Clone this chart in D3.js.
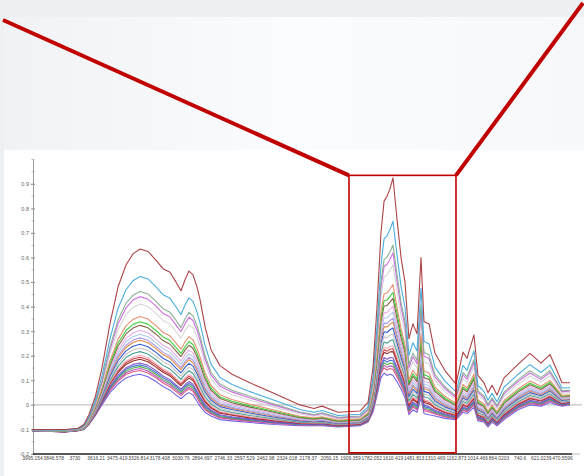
<!DOCTYPE html>
<html><head><meta charset="utf-8">
<script src="https://cdn.jsdelivr.net/npm/d3@7"></script>
<style>html,body{margin:0;padding:0;background:#eef1f4;overflow:hidden}</style>
</head><body><svg id="c" width="584" height="476"></svg>
<script>
// ---- data ----
const wavenumbers = [3995,3782,3711,3679,3652,3619,3574,3521,3467,3411,3362,3313,3257,3201,3152,3103,3061,3027,3001,2976,2950,2924,2905,2871,2829,2766,2682,2560,2399,2231,2140,2091,1989,1849,1801,1768,1735,1703,1678,1654,1630,1607,1583,1558,1534,1510,1486,1454,1422,1398,1357,1309,1240,1163,1114,1086,1037,1009,966,938,909,874,831,750,682,620,556,506,471,414];
const xTickLabels = ["3995.154","3846.578","3730","3616.21","3475.419","3326.814","3178.408","3030.76","2894.697","2746.33","2597.529","2462.98","2324.018","2178.37","2050.15","1909.359","1782.052","1610.419","1481.813","1310.469","1162.873","1014.466","864.0203","740.6","621.0239","470.5596"];
const yTickValues = [-0.2,-0.1,0,0.1,0.2,0.3,0.4,0.5,0.6,0.7,0.8,0.9];

const s1 = [-.1,-.1,-.095,-.08,-.04,.03,.15,.33,.48,.57,.615,.635,.625,.59,.555,.54,.5,.465,.51,.545,.53,.48,.43,.32,.225,.16,.125,.09,.045,0,-.015,-.005,-.03,-.025,.01,.15,.4,.7,.83,.85,.88,.925,.76,.6,.5,.27,.33,.29,.6,.34,.33,.21,.14,.085,.215,.19,.285,.12,.09,.05,.08,.04,.11,.165,.21,.17,.205,.14,.09,.09];
const s2 = [-.101,-.102,-.097,-.084,-.049,.014,.117,.268,.393,.469,.506,.523,.513,.481,.449,.434,.399,.368,.407,.436,.422,.378,.334,.243,.166,.112,.083,.054,.018,-.019,-.03,-.023,-.043,-.038,-.008,.11,.321,.57,.676,.689,.714,.748,.614,.482,.397,.202,.253,.22,.475,.258,.249,.154,.097,.053,.161,.141,.22,.079,.055,.019,.047,.013,.073,.124,.164,.132,.162,.109,.069,.07];
const s3 = [-.102,-.103,-.098,-.087,-.054,.005,.099,.235,.346,.414,.447,.462,.452,.422,.392,.377,.344,.315,.35,.377,.363,.322,.282,.201,.133,.085,.06,.035,.003,-.029,-.039,-.032,-.05,-.045,-.017,.089,.278,.499,.592,.602,.623,.651,.534,.418,.34,.165,.211,.181,.406,.213,.204,.123,.074,.036,.132,.114,.185,.057,.036,.002,.029,-.002,.052,.102,.139,.111,.139,.092,.058,.059];
const s4 = [-.102,-.104,-.099,-.088,-.055,.002,.093,.224,.33,.395,.427,.441,.431,.402,.373,.358,.325,.298,.331,.357,.344,.303,.265,.187,.122,.076,.053,.028,-.002,-.032,-.042,-.035,-.053,-.048,-.02,.082,.263,.476,.564,.573,.593,.619,.507,.397,.321,.152,.197,.168,.383,.198,.189,.113,.066,.03,.122,.105,.173,.05,.029,-.003,.023,-.007,.045,.095,.13,.104,.131,.087,.054,.056];
const s5 = [-.102,-.104,-.099,-.089,-.058,-.003,.084,.207,.306,.368,.397,.411,.401,.372,.344,.329,.298,.271,.303,.327,.314,.275,.239,.166,.106,.063,.041,.019,-.01,-.037,-.046,-.04,-.056,-.051,-.025,.071,.242,.44,.522,.529,.548,.571,.467,.365,.293,.134,.176,.149,.349,.175,.167,.098,.054,.021,.107,.091,.155,.039,.02,-.012,.014,-.015,.035,.084,.118,.093,.119,.078,.048,.05];
const s6 = [-.103,-.105,-.1,-.091,-.062,-.01,.069,.179,.267,.322,.348,.36,.35,.323,.296,.281,.252,.227,.256,.278,.265,.229,.195,.131,.079,.041,.022,.003,-.022,-.046,-.053,-.048,-.062,-.057,-.033,.053,.206,.381,.452,.456,.472,.49,.401,.311,.246,.103,.141,.117,.292,.138,.13,.072,.035,.007,.083,.069,.126,.02,.004,-.026,-.001,-.027,.018,.065,.097,.076,.1,.064,.039,.041];
const s7 = [-.103,-.106,-.101,-.092,-.063,-.013,.063,.168,.251,.303,.328,.339,.329,.303,.277,.262,.233,.21,.237,.258,.246,.21,.178,.117,.068,.032,.015,-.004,-.027,-.049,-.056,-.051,-.065,-.06,-.036,.046,.191,.358,.424,.427,.442,.458,.374,.29,.227,.09,.127,.104,.269,.123,.115,.062,.027,.001,.073,.06,.114,.013,-.003,-.031,-.007,-.032,.011,.058,.088,.069,.092,.059,.035,.038];
const s8 = [-.103,-.106,-.101,-.092,-.064,-.016,.059,.159,.239,.289,.313,.324,.314,.288,.262,.247,.219,.197,.223,.243,.231,.196,.165,.107,.06,.026,.009,-.009,-.031,-.052,-.058,-.054,-.067,-.062,-.039,.04,.18,.34,.403,.405,.419,.434,.354,.274,.213,.081,.117,.095,.252,.111,.104,.054,.021,-.003,.066,.053,.105,.007,-.008,-.035,-.011,-.036,.006,.052,.082,.063,.086,.055,.032,.035];
const s9 = [-.103,-.106,-.101,-.093,-.066,-.019,.053,.148,.223,.271,.293,.304,.294,.268,.243,.228,.201,.179,.205,.223,.212,.178,.147,.093,.05,.017,.002,-.015,-.036,-.055,-.06,-.057,-.069,-.064,-.042,.033,.166,.317,.375,.376,.389,.402,.328,.252,.195,.069,.103,.082,.23,.096,.09,.044,.013,-.009,.056,.044,.093,0,-.014,-.041,-.017,-.041,0,.045,.074,.056,.078,.049,.028,.032];
const s10 = [-.103,-.107,-.102,-.094,-.067,-.021,.048,.14,.211,.257,.278,.288,.278,.253,.229,.214,.187,.166,.19,.208,.197,.164,.134,.082,.041,.01,-.004,-.02,-.04,-.058,-.063,-.059,-.071,-.066,-.044,.028,.155,.299,.354,.354,.367,.378,.308,.236,.18,.059,.092,.072,.212,.085,.078,.037,.007,-.014,.048,.037,.084,-.006,-.019,-.045,-.022,-.045,-.006,.039,.067,.051,.072,.045,.025,.029];
const s11 = [-.104,-.107,-.102,-.094,-.068,-.023,.044,.131,.2,.243,.264,.273,.263,.239,.214,.199,.173,.153,.176,.194,.182,.15,.121,.072,.033,.004,-.01,-.025,-.044,-.06,-.065,-.062,-.073,-.068,-.047,.022,.144,.281,.333,.332,.344,.353,.288,.22,.166,.05,.082,.063,.195,.074,.067,.029,.002,-.018,.041,.03,.076,-.011,-.024,-.049,-.026,-.049,-.011,.034,.061,.046,.067,.041,.023,.026];
const s21 = [-.104,-.107,-.102,-.095,-.069,-.025,.041,.126,.192,.234,.254,.263,.253,.229,.205,.19,.164,.144,.167,.184,.172,.141,.112,.065,.028,-.001,-.014,-.028,-.046,-.062,-.066,-.063,-.074,-.069,-.048,.019,.137,.269,.319,.317,.329,.337,.275,.209,.157,.044,.075,.056,.184,.066,.06,.024,-.002,-.021,.036,.026,.07,-.015,-.027,-.052,-.029,-.051,-.014,.03,.057,.042,.063,.038,.021,.024];
const s12 = [-.104,-.108,-.103,-.095,-.07,-.027,.036,.117,.18,.22,.239,.247,.237,.214,.19,.175,.15,.131,.153,.169,.158,.127,.099,.054,.02,-.007,-.019,-.033,-.05,-.065,-.068,-.066,-.076,-.071,-.051,.013,.126,.252,.298,.295,.306,.313,.255,.193,.143,.034,.064,.047,.167,.055,.049,.016,-.008,-.025,.029,.019,.061,-.021,-.032,-.056,-.034,-.055,-.019,.024,.05,.037,.057,.034,.018,.022];
const s13 = [-.104,-.108,-.103,-.096,-.072,-.029,.032,.109,.168,.207,.224,.232,.222,.199,.176,.161,.137,.117,.139,.154,.143,.113,.086,.044,.012,-.014,-.025,-.038,-.054,-.067,-.07,-.068,-.077,-.072,-.053,.008,.116,.234,.277,.273,.284,.289,.235,.177,.129,.025,.054,.037,.15,.044,.038,.009,-.014,-.03,.021,.012,.052,-.026,-.036,-.061,-.038,-.059,-.024,.019,.044,.032,.051,.029,.015,.019];
const s14 = [-.104,-.108,-.103,-.096,-.073,-.031,.027,.1,.156,.193,.209,.217,.207,.184,.161,.146,.123,.104,.125,.139,.128,.099,.073,.033,.004,-.02,-.031,-.043,-.057,-.07,-.072,-.071,-.079,-.074,-.056,.002,.105,.216,.256,.251,.261,.265,.215,.161,.115,.016,.043,.028,.133,.033,.027,.001,-.02,-.034,.014,.006,.043,-.032,-.041,-.065,-.043,-.062,-.029,.013,.038,.027,.045,.025,.012,.016];
const s15 = [-.104,-.108,-.103,-.097,-.074,-.034,.023,.092,.144,.179,.194,.202,.192,.169,.147,.132,.109,.091,.111,.124,.114,.085,.06,.023,-.004,-.027,-.036,-.048,-.061,-.072,-.074,-.073,-.081,-.076,-.058,-.003,.094,.199,.235,.23,.238,.241,.195,.145,.101,.007,.033,.018,.116,.021,.016,-.007,-.026,-.038,.007,-.001,.034,-.037,-.046,-.069,-.047,-.066,-.034,.008,.032,.021,.039,.021,.009,.014];
const s22 = [-.104,-.109,-.104,-.097,-.075,-.035,.02,.088,.138,.172,.187,.194,.184,.162,.14,.125,.102,.084,.103,.117,.106,.078,.054,.017,-.009,-.03,-.039,-.05,-.063,-.074,-.076,-.074,-.082,-.077,-.059,-.006,.089,.19,.225,.219,.227,.229,.185,.137,.093,.002,.027,.013,.107,.016,.01,-.011,-.029,-.04,.003,-.005,.03,-.04,-.048,-.071,-.05,-.068,-.037,.005,.028,.019,.036,.019,.008,.012];
const s16 = [-.104,-.109,-.104,-.098,-.075,-.036,.018,.084,.132,.165,.179,.186,.176,.154,.133,.118,.095,.078,.096,.109,.099,.071,.047,.012,-.013,-.034,-.042,-.053,-.065,-.075,-.077,-.075,-.083,-.078,-.06,-.008,.083,.181,.214,.208,.216,.217,.175,.129,.086,-.003,.022,.008,.098,.01,.004,-.014,-.032,-.043,-.001,-.008,.025,-.043,-.051,-.073,-.052,-.07,-.04,.002,.025,.016,.033,.017,.006,.011];
const s17 = [-.105,-.109,-.104,-.098,-.076,-.038,.014,.075,.121,.151,.165,.171,.161,.14,.118,.103,.081,.065,.082,.095,.084,.057,.034,.002,-.021,-.04,-.048,-.057,-.069,-.077,-.079,-.078,-.085,-.08,-.063,-.014,.072,.163,.193,.186,.193,.192,.155,.113,.072,-.012,.012,-.001,.081,-.001,-.007,-.022,-.037,-.047,-.008,-.015,.017,-.048,-.056,-.077,-.056,-.074,-.045,-.003,.019,.011,.028,.013,.004,.008];
const s23 = [-.105,-.109,-.104,-.098,-.077,-.039,.011,.071,.115,.145,.157,.163,.153,.132,.111,.096,.075,.058,.075,.087,.077,.05,.028,-.004,-.025,-.043,-.051,-.06,-.071,-.079,-.08,-.079,-.085,-.08,-.064,-.016,.067,.154,.183,.175,.182,.18,.145,.105,.065,-.017,.006,-.006,.073,-.007,-.012,-.026,-.04,-.049,-.012,-.018,.012,-.051,-.058,-.079,-.059,-.076,-.047,-.006,.016,.008,.025,.011,.002,.007];
const s18 = [-.105,-.109,-.104,-.099,-.078,-.04,.009,.067,.109,.138,.15,.156,.146,.125,.104,.089,.068,.051,.068,.08,.069,.043,.021,-.009,-.029,-.047,-.054,-.062,-.072,-.08,-.081,-.08,-.086,-.081,-.065,-.019,.062,.145,.172,.164,.17,.168,.135,.097,.058,-.021,.001,-.011,.064,-.012,-.018,-.03,-.043,-.051,-.015,-.021,.008,-.054,-.06,-.082,-.061,-.077,-.05,-.009,.013,.006,.022,.008,.001,.005];
const s24 = [-.105,-.11,-.105,-.099,-.078,-.042,.007,.063,.103,.131,.142,.148,.138,.117,.097,.082,.061,.045,.061,.072,.062,.036,.015,-.014,-.033,-.05,-.056,-.065,-.074,-.081,-.082,-.081,-.087,-.082,-.066,-.022,.056,.137,.162,.153,.159,.156,.125,.089,.051,-.026,-.004,-.016,.056,-.018,-.023,-.034,-.046,-.053,-.019,-.025,.003,-.057,-.063,-.084,-.063,-.079,-.052,-.012,.009,.003,.019,.006,-.001,.004];
const s19 = [-.105,-.11,-.105,-.099,-.079,-.043,.005,.058,.097,.124,.135,.14,.13,.11,.089,.074,.054,.038,.054,.065,.055,.029,.008,-.019,-.037,-.053,-.059,-.067,-.076,-.082,-.083,-.083,-.088,-.083,-.068,-.025,.051,.128,.151,.142,.148,.144,.115,.081,.044,-.031,-.009,-.02,.047,-.024,-.029,-.037,-.049,-.056,-.023,-.028,-.001,-.059,-.065,-.086,-.065,-.081,-.055,-.014,.006,0,.016,.004,-.002,.003];
const s20 = [-.105,-.11,-.105,-.1,-.08,-.045,0,.05,.085,.11,.12,.125,.115,.095,.075,.06,.04,.025,.04,.05,.04,.015,-.005,-.03,-.045,-.06,-.065,-.072,-.08,-.085,-.085,-.085,-.09,-.085,-.07,-.03,.04,.11,.13,.12,.125,.12,.095,.065,.03,-.04,-.02,-.03,.03,-.035,-.04,-.045,-.055,-.06,-.03,-.035,-.01,-.065,-.07,-.09,-.07,-.085,-.06,-.02,0,-.005,.01,0,-.005,0];

const seriesValues = [s1,s2,s3,s4,s5,s6,s7,s8,s9,s10,s11,s21,s12,s13,s14,s15,s22,s16,s17,s23,s18,s24,s19,s20];
const seriesColors = ["#a8393c","#41a9dd","#86ad8e","#cc66e0","#d4d4d4","#e58a6a","#33cc33","#7b5b3c","#e8a6e6","#a9c6e6","#a996e3","#e0843c","#2952d1","#c3c3c3","#3a9b8b","#f2a7b6","#c83232","#8c2424","#8451c4","#3d6fd6","#4caf3f","#b04fb5","#e0507d","#6b5ce6"];

// highlighted region (wavenumber range and absorbance range)
const zoomWave = [1916, 1163];
const zoomAbs = [-0.195, 0.935];

// ---- drawing ----
const svg = d3.select("#c");
const defs = svg.append("defs");
const g = defs.append("linearGradient").attr("id","topg").attr("x1","0").attr("x2","1").attr("y1","0").attr("y2","0");
g.append("stop").attr("offset","0").attr("stop-color","#f0f2f5");
g.append("stop").attr("offset","0.5").attr("stop-color","#fbfcfd");
g.append("stop").attr("offset","1").attr("stop-color","#f6f8fa");

svg.append("rect").attr("x",0).attr("y",0).attr("width",584).attr("height",476).attr("fill","#eef1f4");
svg.append("rect").attr("x",4).attr("y",17).attr("width",580).attr("height",133).attr("fill","url(#topg)");
svg.append("rect").attr("x",4).attr("y",150).attr("width",580).attr("height",326).attr("fill","#ffffff");

const xTickNums = xTickLabels.map(Number);
const x = d3.scaleLinear().domain(xTickNums).range(xTickNums.map((d,i)=>32 + i*21.2));
const y = d3.scaleLinear().domain([-0.2, 1.0]).range([454, 159.4]);

// zero line
svg.append("line").attr("x1",33).attr("x2",582).attr("y1",y(0)).attr("y2",y(0))
  .attr("stroke","#b4b4b4").attr("stroke-width",1);

// y axis
const yAxis = svg.append("g").attr("transform","translate(33,0)")
  .call(d3.axisLeft(y).tickValues(yTickValues).tickSize(2).tickSizeOuter(0).tickPadding(2).tickFormat(d=>String(d)));
yAxis.select(".domain").attr("stroke","#9a9a9a");
yAxis.selectAll(".tick line").attr("stroke","#9a9a9a").attr("x2",2).attr("x1",-2);
yAxis.selectAll("text").attr("font-family","Liberation Sans, Arial, sans-serif").attr("font-size","5.5px").attr("fill","#666");
// minor ticks
svg.append("g").selectAll("line").data(y.ticks(24)).join("line")
  .attr("x1",31.5).attr("x2",34.5).attr("y1",d=>y(d)).attr("y2",d=>y(d))
  .attr("stroke","#a8a8a8").attr("stroke-width",0.8);

// spectra
const line = d3.line().x((d,i)=>x(wavenumbers[i])).y(d=>y(d));
const order = d3.range(seriesValues.length).reverse();
svg.append("g").selectAll("path").data(order).join("path")
  .attr("d", i=>line(seriesValues[i]))
  .attr("fill","none").attr("stroke", i=>seriesColors[i])
  .attr("stroke-width",1.1).attr("stroke-linejoin","round").attr("stroke-opacity",0.95);

// x axis
const xAxis = svg.append("g").attr("transform",`translate(0,${y(-0.2)})`)
  .call(d3.axisBottom(x).tickValues(xTickNums).tickSize(0).tickPadding(3).tickFormat((d,i)=>xTickLabels[i]));
xAxis.select(".domain").remove();
xAxis.selectAll("text").attr("font-family","Liberation Sans, Arial, sans-serif").attr("font-size","4.9px").attr("fill","#444");
svg.append("line").attr("x1",33).attr("x2",572).attr("y1",y(-0.2)).attr("y2",y(-0.2)).attr("stroke","#222").attr("stroke-width",1.6);
svg.append("line").attr("x1",572).attr("x2",580).attr("y1",y(-0.2)).attr("y2",y(-0.2)).attr("stroke","#bbb").attr("stroke-width",1);

// highlight box and connectors
const bx0 = x(zoomWave[0]), bx1 = x(zoomWave[1]), by0 = y(zoomAbs[1]), by1 = y(zoomAbs[0]);
svg.append("rect").attr("x",bx0).attr("y",by0).attr("width",bx1-bx0).attr("height",by1-by0)
  .attr("fill","none").attr("stroke","#c00000").attr("stroke-width",1.6);
svg.append("line").attr("x1",3).attr("y1",20).attr("x2",bx0).attr("y2",by0)
  .attr("stroke","#c00000").attr("stroke-width",4);
svg.append("line").attr("x1",583).attr("y1",3).attr("x2",bx1).attr("y2",by0)
  .attr("stroke","#c00000").attr("stroke-width",4);
</script></body></html>
